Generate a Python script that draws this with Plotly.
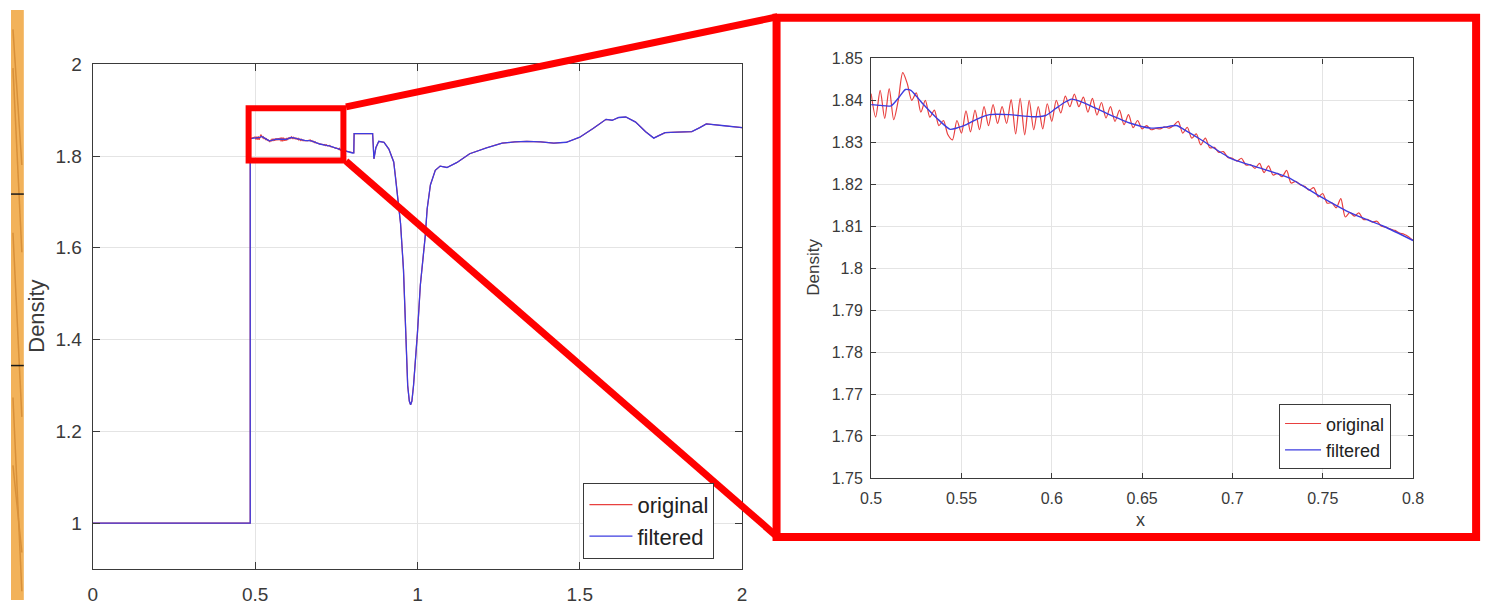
import plotly.graph_objects as go

W, H = 1494, 609
FONT = "Liberation Sans, Arial, Helvetica, sans-serif"
TXT = "#3a3a3a"
RED = "#e8403f"
BLUE = "#3c3ce0"
FRAME = "#ff0000"

# ---------------- data ----------------
# inflow state before the shock front
step_x = [0.0, 0.485, 0.485]
step_y = [1.0, 1.0, 1.838]

# detail window 0.5 - 0.8, filtered density
win_filt_x = [0.500, 0.505, 0.511, 0.515, 0.519, 0.522, 0.526, 0.529, 0.5365, 0.5437,
              0.548, 0.553, 0.559, 0.5656, 0.5765, 0.5894, 0.5966, 0.602, 0.607, 0.611,
              0.615, 0.620, 0.631, 0.644, 0.655, 0.662, 0.669, 0.673, 0.682, 0.699,
              0.715, 0.731, 0.749, 0.7657, 0.7837, 0.800]
win_filt_y = [1.8390, 1.8388, 1.8387, 1.8405, 1.8426, 1.8424, 1.8405, 1.8390, 1.8357, 1.8331,
              1.8335, 1.8343, 1.8356, 1.8366, 1.8366, 1.8361, 1.8364, 1.8380, 1.8395, 1.8403,
              1.8399, 1.8390, 1.8368, 1.8345, 1.8334, 1.8336, 1.8340, 1.8331, 1.8308, 1.8262,
              1.8239, 1.8216, 1.8170, 1.8131, 1.8100, 1.8066]

# detail window 0.5 - 0.8, original (unfiltered) density
win_orig_x = [0.5000, 0.5025, 0.5050, 0.5075, 0.5100, 0.5125, 0.5150, 0.5175, 0.5200, 0.5225,
              0.5250, 0.5275, 0.5300, 0.5325, 0.5350, 0.5375, 0.5400, 0.5425, 0.5450, 0.5475,
              0.5500, 0.5525, 0.5550, 0.5575, 0.5600, 0.5625, 0.5650, 0.5675, 0.5700, 0.5725,
              0.5750, 0.5775, 0.5800, 0.5825, 0.5850, 0.5875, 0.5900, 0.5925, 0.5950, 0.5975,
              0.6000, 0.6025, 0.6050, 0.6075, 0.6100, 0.6125, 0.6150, 0.6175, 0.6200, 0.6225,
              0.6250, 0.6275, 0.6300, 0.6325, 0.6350, 0.6375, 0.6400, 0.6425, 0.6450, 0.6475,
              0.6500, 0.6525, 0.6550, 0.6575, 0.6600, 0.6625, 0.6650, 0.6675, 0.6700, 0.6725,
              0.6750, 0.6775, 0.6800, 0.6825, 0.6850, 0.6875, 0.6900, 0.6925, 0.6950, 0.6975,
              0.7000, 0.7025, 0.7050, 0.7075, 0.7100, 0.7125, 0.7150, 0.7175, 0.7200, 0.7225,
              0.7250, 0.7275, 0.7300, 0.7325, 0.7350, 0.7375, 0.7400, 0.7425, 0.7450, 0.7475,
              0.7500, 0.7525, 0.7550, 0.7575, 0.7600, 0.7625, 0.7650, 0.7675, 0.7700, 0.7725,
              0.7750, 0.7775, 0.7800, 0.7825, 0.7850, 0.7875, 0.7900, 0.7925, 0.7950, 0.7975,
              0.8000]
win_orig_y = [1.8416, 1.8360, 1.8424, 1.8357, 1.8428, 1.8354, 1.8400, 1.8466, 1.8440, 1.8400,
              1.8418, 1.8372, 1.8400, 1.8360, 1.8377, 1.8340, 1.8352, 1.8318, 1.8306, 1.8352,
              1.8322, 1.8375, 1.8325, 1.8377, 1.8330, 1.8385, 1.8340, 1.8390, 1.8345, 1.8385,
              1.8345, 1.8402, 1.8320, 1.8405, 1.8318, 1.8400, 1.8330, 1.8385, 1.8332, 1.8392,
              1.8350, 1.8400, 1.8370, 1.8410, 1.8385, 1.8415, 1.8385, 1.8408, 1.8372, 1.8405,
              1.8365, 1.8395, 1.8358, 1.8385, 1.8350, 1.8377, 1.8342, 1.8366, 1.8335, 1.8352,
              1.8332, 1.8340, 1.8330, 1.8333, 1.8332, 1.8337, 1.8334, 1.8340, 1.8350, 1.8322,
              1.8336, 1.8310, 1.8320, 1.8294, 1.8310, 1.8287, 1.8288, 1.8276, 1.8278, 1.8264,
              1.8262, 1.8255, 1.8262, 1.8246, 1.8247, 1.8238, 1.8250, 1.8228, 1.8244, 1.8222,
              1.8226, 1.8218, 1.8233, 1.8203, 1.8207, 1.8199, 1.8195, 1.8186, 1.8192, 1.8170,
              1.8178, 1.8155, 1.8156, 1.8144, 1.8166, 1.8122, 1.8133, 1.8124, 1.8132, 1.8116,
              1.8116, 1.8110, 1.8112, 1.8100, 1.8098, 1.8093, 1.8090, 1.8084, 1.8081, 1.8075,
              1.8066]

# downstream part (contact region, rarefaction and beyond)
tail_x = [0.804, 0.805, 0.862, 0.866, 0.872, 0.881, 0.897, 0.912, 0.927, 0.933,
          0.942, 0.948, 0.957, 0.964, 0.970, 0.975, 0.979, 0.983, 0.988, 1.000,
          1.009, 1.024, 1.030, 1.040, 1.055, 1.070, 1.091, 1.122, 1.161, 1.213,
          1.261, 1.300, 1.337, 1.380, 1.420, 1.459, 1.500, 1.541, 1.581, 1.600,
          1.620, 1.642, 1.672, 1.703, 1.728, 1.745, 1.763, 1.800, 1.845, 1.870,
          1.890, 1.945, 2.000]
tail_y = [1.807, 1.849, 1.849, 1.794, 1.818, 1.832, 1.830, 1.815, 1.787, 1.752,
          1.695, 1.653, 1.553, 1.414, 1.300, 1.266, 1.258, 1.266, 1.300, 1.414,
          1.519, 1.625, 1.685, 1.737, 1.769, 1.778, 1.775, 1.786, 1.805, 1.818,
          1.828, 1.831, 1.832, 1.831, 1.828, 1.830, 1.841, 1.860, 1.880, 1.878,
          1.884, 1.885, 1.874, 1.853, 1.839, 1.845, 1.851, 1.852, 1.853, 1.862,
          1.870, 1.866, 1.862]

main_xticks = [0, 0.5, 1, 1.5, 2]
main_xtext = ["0", "0.5", "1", "1.5", "2"]
main_yticks = [1, 1.2, 1.4, 1.6, 1.8, 2]
main_ytext = ["1", "1.2", "1.4", "1.6", "1.8", "2"]
win_xticks = [0.5, 0.55, 0.6, 0.65, 0.7, 0.75, 0.8]
win_xtext = ["0.5", "0.55", "0.6", "0.65", "0.7", "0.75", "0.8"]
win_yticks = [1.75, 1.76, 1.77, 1.78, 1.79, 1.80, 1.81, 1.82, 1.83, 1.84, 1.85]
win_ytext = ["1.75", "1.76", "1.77", "1.78", "1.79", "1.8", "1.81", "1.82", "1.83", "1.84", "1.85"]

# zoom window marked on the main axes (data units)
box_x = [0.480, 0.772]
box_y = [1.790, 1.904]


def px(v):
    return v / W


def py(v):
    return 1 - v / H


main_orig_x = step_x + win_orig_x + tail_x
main_orig_y = step_y + win_orig_y + tail_y
main_filt_x = step_x + win_filt_x + tail_x
main_filt_y = step_y + win_filt_y + tail_y

fig = go.Figure()

fig.add_trace(go.Scatter(x=main_orig_x, y=main_orig_y, mode="lines", name="original",
                         line=dict(color=RED, width=1.2), xaxis="x", yaxis="y", legend="legend"))
fig.add_trace(go.Scatter(x=main_filt_x, y=main_filt_y, mode="lines", name="filtered",
                         line=dict(color=BLUE, width=1.3), xaxis="x", yaxis="y", legend="legend"))
fig.add_trace(go.Scatter(x=win_orig_x, y=win_orig_y, mode="lines", name="original",
                         line=dict(color=RED, width=1.2, shape="spline", smoothing=0.8),
                         xaxis="x2", yaxis="y2", legend="legend2"))
fig.add_trace(go.Scatter(x=win_filt_x, y=win_filt_y, mode="lines", name="filtered",
                         line=dict(color=BLUE, width=1.4, shape="spline", smoothing=0.6),
                         xaxis="x2", yaxis="y2", legend="legend2"))

axis_common = dict(showline=True, linecolor="#3a3a3a", linewidth=1.2, mirror="ticks",
                   ticks="inside", tickcolor="#3a3a3a", showgrid=True, gridcolor="#e4e4e4",
                   gridwidth=1, zeroline=False, fixedrange=True)

fig.update_layout(
    autosize=True,
    margin=dict(l=0, r=0, t=0, b=0),
    paper_bgcolor="white", plot_bgcolor="white",
    font=dict(family=FONT, color=TXT),
    xaxis=dict(domain=[px(83), px(742)], range=[0, 2], tickvals=main_xticks, ticktext=main_xtext,
               ticklen=7, tickfont=dict(size=19), ticklabelstandoff=8, anchor="y", **axis_common),
    yaxis=dict(domain=[py(577), py(56)], range=[0.9, 2], tickvals=main_yticks, ticktext=main_ytext,
               ticklen=7, tickfont=dict(size=19), ticklabelstandoff=6, anchor="x", **axis_common),
    xaxis2=dict(domain=[px(873), px(1423)], range=[0.5, 0.8], tickvals=win_xticks, ticktext=win_xtext,
                ticklen=5, tickfont=dict(size=16), ticklabelstandoff=6, anchor="y2", **axis_common),
    yaxis2=dict(domain=[py(483), py(50)], range=[1.75, 1.85], tickvals=win_yticks, ticktext=win_ytext,
                ticklen=5, tickfont=dict(size=16), ticklabelstandoff=4, anchor="x2", **axis_common),
    legend=dict(x=px(581), y=py(488), xanchor="left", yanchor="top", bgcolor="white",
                bordercolor="#3a3a3a", borderwidth=1, font=dict(size=22, color="#222"),
                tracegroupgap=0, itemwidth=43),
    legend2=dict(x=px(1287), y=py(407), xanchor="left", yanchor="top", bgcolor="white",
                 bordercolor="#3a3a3a", borderwidth=1, font=dict(size=18, color="#222"),
                 tracegroupgap=0, itemwidth=36),
    annotations=[
        dict(text="Density", x=px(26), y=py(316), xref="paper", yref="paper", textangle=-90,
             showarrow=False, font=dict(size=22, color=TXT), xanchor="center", yanchor="middle"),
        dict(text="Density", x=px(815), y=py(265), xref="paper", yref="paper", textangle=-90,
             showarrow=False, font=dict(size=17, color=TXT), xanchor="center", yanchor="middle"),
        dict(text="x", x=px(1146), y=py(526), xref="paper", yref="paper",
             showarrow=False, font=dict(size=18, color=TXT), xanchor="center", yanchor="middle"),
    ],
)

shapes = []
# wooden strip along the left edge
shapes.append(dict(type="rect", xref="paper", yref="paper", x0=0, x1=px(13), y0=0, y1=1,
                   fillcolor="#f2b25a", line=dict(width=0), layer="below"))
for y_a, y_b in [(20, 160), (60, 250), (230, 420), (400, 600), (470, 560)]:
    shapes.append(dict(type="line", xref="paper", yref="paper", x0=px(2), x1=px(11),
                       y0=py(y_a), y1=py(y_b), line=dict(color="#d8903a", width=1.5), layer="below"))
for y_l in [190, 367]:
    shapes.append(dict(type="line", xref="paper", yref="paper", x0=0, x1=px(13),
                       y0=py(y_l), y1=py(y_l), line=dict(color="#1a1a1a", width=1.5)))
# zoom box on the main axes
shapes.append(dict(type="rect", xref="x", yref="y", x0=box_x[0], x1=box_x[1], y0=box_y[0], y1=box_y[1],
                   line=dict(color=FRAME, width=6)))
# connectors to the detail frame
shapes.append(dict(type="line", xref="paper", yref="paper", x0=px(340), y0=py(100), x1=px(778), y1=py(7),
                   line=dict(color=FRAME, width=7)))
shapes.append(dict(type="line", xref="paper", yref="paper", x0=px(340), y0=py(156), x1=px(778), y1=py(544),
                   line=dict(color=FRAME, width=7)))
# frame around the detail axes
shapes.append(dict(type="rect", xref="paper", yref="paper", x0=px(777), x1=px(1487), y0=py(544), y1=py(8),
                   line=dict(color=FRAME, width=8)))
fig.update_layout(shapes=shapes)

# the plot div is pinned to the page corner so it fills the window exactly
fig.write_html("out.html", config={"displayModeBar": False},
               default_width=f"{W}px;position:absolute;left:0px;top:0px",
               default_height=f"{H}px")
